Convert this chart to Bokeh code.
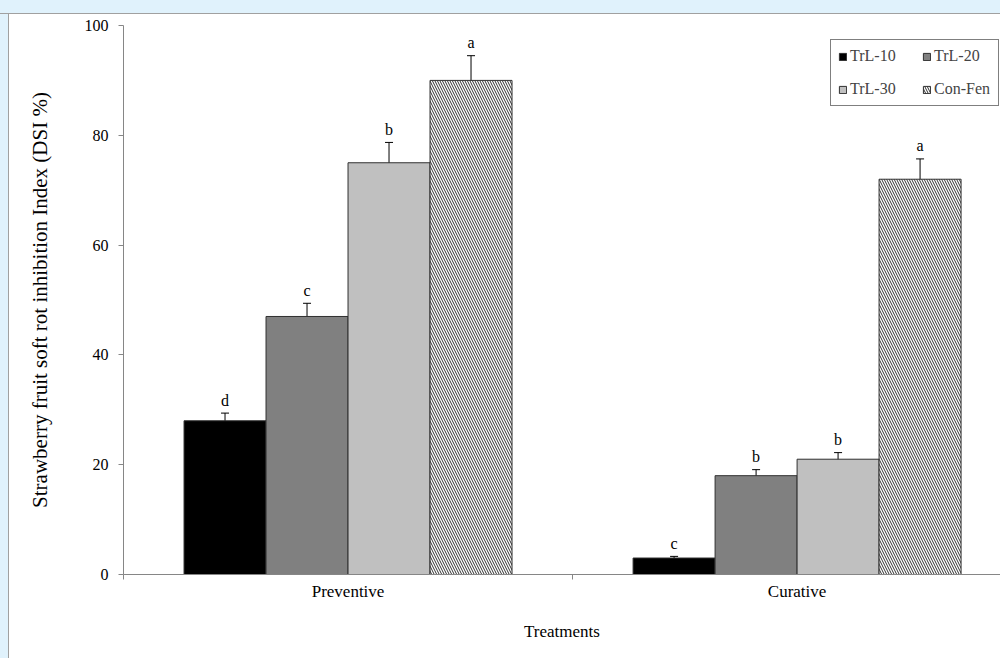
from bokeh.plotting import figure
from bokeh.models import (Range1d, FixedTicker, Whisker, TeeHead, ColumnDataSource,
                          Legend, LegendItem)
from bokeh.core.properties import value
from bokeh.embed import file_html
from bokeh.resources import INLINE

treatments = ["Preventive", "Curative"]
series = ["TrL-10", "TrL-20", "TrL-30", "Con-Fen"]
trl10 = [28, 3]
trl20 = [47, 18]
trl30 = [75, 21]
confen = [90, 72]
err10 = [1.4, 0.3]
err20 = [2.4, 1.1]
err30 = [3.7, 1.2]
errcf = [4.5, 3.7]
let10 = ["d", "c"]
let20 = ["c", "b"]
let30 = ["b", "b"]
letcf = ["a", "a"]
y_ticks = [0, 20, 40, 60, 80, 100]

values = [trl10, trl20, trl30, confen]
errors = [err10, err20, err30, errcf]
letters = [let10, let20, let30, letcf]
fills = ["#000000", "#808080", "#C0C0C0", "#FFFFFF"]
hatches = [None, None, None, "\\"]

FONT = "Liberation Serif"
AXIS_GRAY = "#868686"

bar_w = 0.1826
centers = [i + 0.5 for i in range(len(treatments))]

p = figure(width=1000, height=658, output_backend="svg", toolbar_location=None,
           x_range=Range1d(0, 1.953), y_range=Range1d(0, 100),
           min_border_left=123, min_border_right=0, min_border_top=25, min_border_bottom=84)
p.xgrid.visible = False
p.ygrid.visible = False
p.outline_line_color = None
p.background_fill_color = "white"
p.border_fill_alpha = 0
# light-blue page strip + grey panel border, as in the source screenshot
p.styles = {
    "background": ("linear-gradient(to bottom, #E0F2FC 0px, #E0F2FC 13px, #A0A0A0 13px, "
                   "#A0A0A0 14px, rgba(255,255,255,0) 14px), "
                   "linear-gradient(to right, #E0F2FC 0px, #E0F2FC 8px, #A0A0A0 8px, "
                   "#A0A0A0 9px, #FFFFFF 9px)")
}

items = []
for k, name in enumerate(series):
    off = (k - 1.5) * bar_w
    vals = values[k]
    errs = errors[k]
    src = ColumnDataSource(dict(
        x=[c + off for c in centers],
        top=vals,
        upper=[v + e for v, e in zip(vals, errs)],
        lower=[v - e for v, e in zip(vals, errs)],
        label=letters[k],
    ))
    kw = dict(fill_color=fills[k], line_color="#303030", line_width=1)
    if hatches[k]:
        kw.update(hatch_pattern=hatches[k], hatch_color="#303030", hatch_scale=5, hatch_weight=1)
    r = p.vbar(x="x", top="top", bottom=0, width=bar_w, source=src, **kw)
    items.append(LegendItem(label=name, renderers=[r]))
    w = Whisker(source=src, base="x", upper="upper", lower="lower", dimension="height",
                line_color="black", line_width=1,
                upper_head=TeeHead(size=8, line_color="black", line_width=1),
                lower_head=TeeHead(size=8, line_color="black", line_width=1))
    p.add_layout(w)
    p.text(x="x", y="upper", text="label", source=src, text_align="center",
           text_baseline="middle", y_offset=-13, text_font=value(FONT),
           text_font_size="16px", text_color="black")

legend = Legend(items=items, location=(707, 468), orientation="horizontal", ncols=2,
                label_text_font=FONT, label_text_font_size="16px",
                glyph_width=9, glyph_height=9, label_standoff=3, label_width=57,
                label_height=18, spacing=15, padding=7, margin=0,
                border_line_color="black", border_line_width=1,
                background_fill_color="white", background_fill_alpha=1)
p.add_layout(legend)

# y axis
ya = p.yaxis[0]
ya.ticker = FixedTicker(ticks=y_ticks)
ya.axis_line_color = AXIS_GRAY
ya.major_tick_line_color = AXIS_GRAY
ya.major_tick_out = 5
ya.major_tick_in = 0
ya.minor_tick_line_color = None
ya.major_label_standoff = 10
ya.major_label_text_font = FONT
ya.major_label_text_font_size = "16px"
ya.major_label_text_color = "black"
ya.axis_label = "Strawberry fruit soft rot inhibition Index (DSI %)"
ya.axis_label_text_font = FONT
ya.axis_label_text_font_size = "21px"
ya.axis_label_text_font_style = "normal"
ya.axis_label_text_color = "black"
ya.axis_label_standoff = 30

# x axis
xa = p.xaxis[0]
xa.ticker = FixedTicker(ticks=centers, minor_ticks=[float(i) for i in range(len(treatments) + 1)])
xa.major_label_overrides = {c: t for c, t in zip(centers, treatments)}
xa.axis_line_color = AXIS_GRAY
xa.major_tick_line_color = None
xa.major_tick_out = 0
xa.major_tick_in = 0
xa.minor_tick_line_color = AXIS_GRAY
xa.minor_tick_out = 5
xa.minor_tick_in = 0
xa.major_label_standoff = 2
xa.major_label_text_font = FONT
xa.major_label_text_font_size = "17px"
xa.major_label_text_color = "black"
xa.axis_label = "Treatments"
xa.axis_label_text_font = FONT
xa.axis_label_text_font_size = "17px"
xa.axis_label_text_font_style = "normal"
xa.axis_label_text_color = "black"
xa.axis_label_standoff = 18

open("out.html", "w").write(file_html(p, INLINE))
